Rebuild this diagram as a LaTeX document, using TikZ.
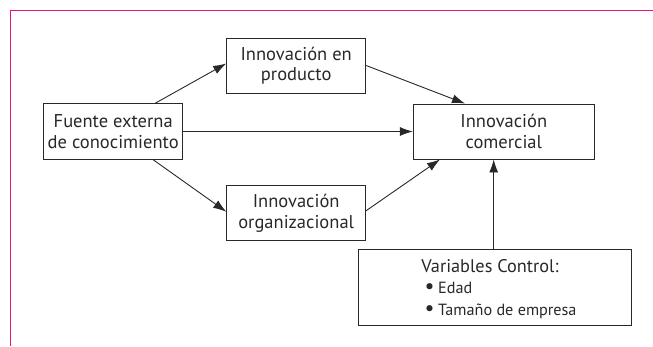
\documentclass[tikz,border=0pt]{standalone}
\usepackage{fontspec}
\setmainfont{PT Sans}
\usetikzlibrary{arrows.meta,calc}
\definecolor{framepink}{RGB}{230,20,120}
\definecolor{ink}{RGB}{40,40,40}
\newcommand{\bul}{{\fontsize{22}{16}\selectfont\raisebox{-0.5pt}{•}}\hspace{3.5pt}}
\tikzset{
  box/.style={draw=ink,line width=0.9pt,text=ink,align=center,inner sep=0pt,
    font=\fontsize{18.5}{20.5}\selectfont},
  arr/.style={draw=ink,line width=0.9pt,-{Latex[length=13pt,width=9pt]}},
  vtxt/.style={text=ink,inner sep=0pt,font=\fontsize{18.3}{18}\selectfont},
  itxt/.style={text=ink,inner sep=0pt,anchor=base west,font=\fontsize{16.2}{16}\selectfont},
}
\begin{document}
\begin{tikzpicture}[x=1pt,y=-1pt]
\useasboundingbox (0,0) rectangle (653,346);
\draw[framepink,line width=1.2pt] (653,10.7) -- (10.6,10.7) -- (10.6,346);
\node[box,minimum width=139pt,minimum height=55.6pt] (fuente) at (113.2,131.5) {Fuente externa\\de conocimiento};
\node[box,minimum width=139pt,minimum height=55pt] (prod) at (296.2,65.5) {Innovación en\\producto};
\node[box,minimum width=139pt,minimum height=55pt] (org) at (296.2,213.2) {Innovación\\organizacional};
\node[box,minimum width=181pt,minimum height=55pt] (com) at (503.8,131.5) {Innovación\\comercial};
\node[box,minimum width=273.4pt,minimum height=75.7pt] (var) at (495,287.2) {};
\node[vtxt] (vtitle) at (490,266) {Variables Control:};
\node[itxt] (i1) at (424.5,293) {\bul Edad};
\node[itxt] (i2) at (424.5,315) {\bul Tamaño de empresa};
\draw[arr] ([xshift=42pt]fuente.north) -- ([yshift=2pt]prod.west);
\draw[arr] (prod.east) -- ([xshift=-38.8pt]com.north);
\draw[arr] (fuente.east) -- (com.west);
\draw[arr] ([xshift=40pt]fuente.south) -- ([yshift=1.5pt]org.west);
\draw[arr] ([yshift=2.5pt]org.east) -- ([xshift=-63.8pt]com.south);
\draw[arr] ([xshift=-1.3pt]var.north) -- ([xshift=-1.3pt]var.north |- com.south);
\end{tikzpicture}
\end{document}
